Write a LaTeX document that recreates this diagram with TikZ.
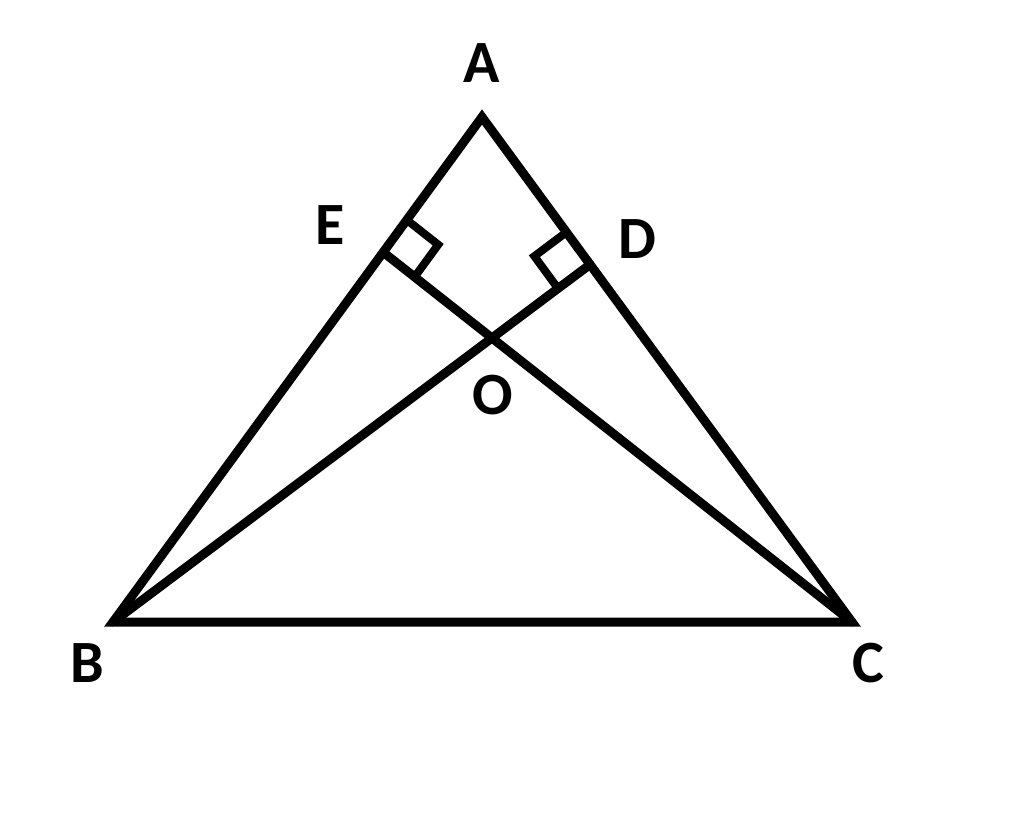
\documentclass[tikz,border=0pt]{standalone}
\usepackage{fontspec}
\setmainfont{Carlito}
\usetikzlibrary{calc}
\begin{document}
\begin{tikzpicture}[x=1pt,y=-1pt,
  edge/.style={line width=9pt,line cap=round},
  tri/.style={line width=9pt,line join=miter,miter limit=10},
  ramark/.style={line width=8pt,line join=miter},
  lbl/.style={inner sep=0pt,font=\fontsize{60}{60}\bfseries\selectfont}]
\useasboundingbox (0,0) rectangle (1024,817);
\coordinate (A) at (482,117);
\coordinate (B) at (113,622);
\coordinate (C) at (852,622);
\coordinate (O) at (492,338);
\coordinate (D) at (590,264.5);
\coordinate (E) at (383.2,252.2);
\draw[tri] (A) -- (B) -- (C) -- cycle;
\draw[edge] (B) -- (D);
\draw[edge] (C) -- (E);
% right-angle marks
\draw[ramark] ($(E)!40pt!(A)$) -- ($(E)!40pt!(A)+(E)!40pt!(C)-(E)$) -- ($(E)!40pt!(C)$);
\draw[ramark] ($(D)!40pt!(A)$) -- ($(D)!40pt!(A)+(D)!40pt!(B)-(D)$) -- ($(D)!40pt!(B)$);
\node[lbl] (lA) at (482,63) {A};
\node[lbl] (lB) at (87,663) {B};
\node[lbl] (lC) at (868,663) {C};
\node[lbl] (lD) at (637,239) {D};
\node[lbl] (lE) at (330,225) {E};
\node[lbl] (lO) at (493,395) {O};
\end{tikzpicture}
\end{document}
